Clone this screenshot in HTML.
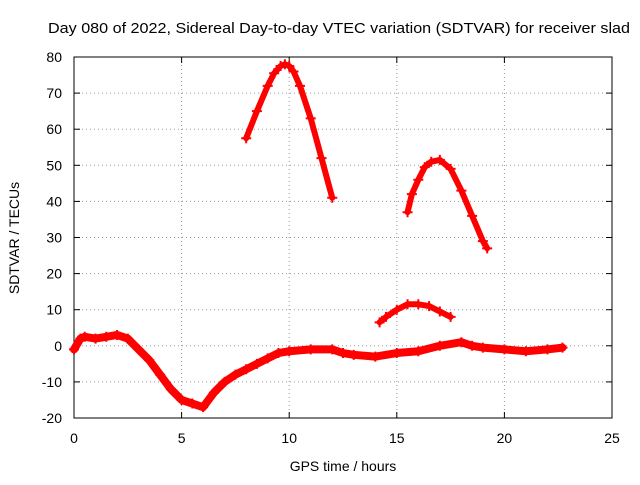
<!DOCTYPE html>
<html><head><meta charset="utf-8"><style>
body{margin:0;background:#fff}
svg text{font-family:"Liberation Sans",sans-serif;font-size:14px;fill:#000}
</style></head><body>
<svg width="640" height="480">
<g id="grid"></g>
<rect x="74" y="57" width="538" height="361" fill="none" stroke="#000"/>
<g id="axes"></g>
<g id="series"></g>
<text x="48" y="33" textLength="582" lengthAdjust="spacingAndGlyphs" style="font-size:15px">Day 080 of 2022, Sidereal Day-to-day VTEC variation (SDTVAR) for receiver slad</text>
<text x="343" y="471" text-anchor="middle">GPS time / hours</text>
<text x="19" y="238" text-anchor="middle" transform="rotate(-90 19 238)">SDTVAR / TECUs</text>
</svg>
<script>
const xTicks=[0,5,10,15,20,25];
const yTicks=[-20,-10,0,10,20,30,40,50,60,70,80];
const baseT=[0,0.3,0.5,1,1.5,2,2.5,3,3.5,4,4.5,5,5.5,6,6.5,7,7.5,8,8.5,9,9.5,10,11,12,12.5,13,14,15,16,17,18,18.5,19,20,21,22,22.7];
const baseV=[-1,2,2.5,2,2.5,3,2,-1,-4,-8,-12,-15,-16,-17,-13,-10,-8,-6.5,-5,-3.5,-2,-1.5,-1,-1,-2,-2.5,-3,-2,-1.5,0,1,0,-0.5,-1,-1.5,-1,-0.5];
const arc1T=[8,8.5,9,9.3,9.6,9.8,10,10.2,10.5,11,11.5,12];
const arc1V=[57.5,65,72,75.5,77.5,78,77.5,76,72,63,52,41];
const arc2T=[15.5,15.7,16,16.3,16.6,17,17.5,18,18.5,19,19.2];
const arc2V=[37,42,46,49.5,51,51.5,49,43,36,29,27];
const arc3T=[14.2,14.5,15,15.5,16,16.5,17,17.5];
const arc3V=[6.5,8,10,11.5,11.5,11,9.5,8];
const X=t=>74+t*(538/25), Y=v=>418-(v+20)*3.61;
const NS="http://www.w3.org/2000/svg";
function mk(tag,attrs,parent){const e=document.createElementNS(NS,tag);for(const k in attrs)e.setAttribute(k,attrs[k]);parent.appendChild(e);return e;}
const grid=document.getElementById('grid'),axes=document.getElementById('axes'),ser=document.getElementById('series');
xTicks.forEach(t=>{
 if(t>0&&t<25){const g=mk('line',{x1:X(t),x2:X(t),y1:57,y2:418,stroke:'#999','stroke-dasharray':'1,3'},grid);
 
 }
 const l=mk('text',{x:X(t),y:443,'text-anchor':'middle'},axes);l.textContent=t;
 
 
 mk('line',{x1:X(t),x2:X(t),y1:418,y2:412,stroke:'#000'},axes);
 mk('line',{x1:X(t),x2:X(t),y1:57,y2:63,stroke:'#000'},axes);
});
yTicks.forEach(v=>{
 if(v>-20&&v<80){const g=mk('line',{x1:74,x2:612,y1:Y(v),y2:Y(v),stroke:'#999','stroke-dasharray':'1,3'},grid);
 
 }
 const l=mk('text',{x:62,y:Y(v)+5,'text-anchor':'end'},axes);l.textContent=v;
 
 
 mk('line',{x1:74,x2:80,y1:Y(v),y2:Y(v),stroke:'#000'},axes);
 mk('line',{x1:612,x2:606,y1:Y(v),y2:Y(v),stroke:'#000'},axes);
});
function draw(T,V,name,w){
 const p=mk('polyline',{points:T.map((t,i)=>X(t)+','+Y(V[i])).join(' '),fill:'none',stroke:'#f00','stroke-width':w,'stroke-linejoin':'round','stroke-linecap':'round'},ser);
 
 
 T.forEach((t,i)=>{const x=X(t),y=Y(V[i]);
  const c=mk('path',{d:`M${x-5},${y}h10M${x},${y-5}v10`,stroke:'#f00','stroke-width':2},ser);
  
  });
}
draw(baseT,baseV,'baseline-series',8);
draw(arc1T,arc1V,'arc-series-1',6);
draw(arc2T,arc2V,'arc-series-2',6);
draw(arc3T,arc3V,'arc-series-3',6);
</script>
</body></html>
